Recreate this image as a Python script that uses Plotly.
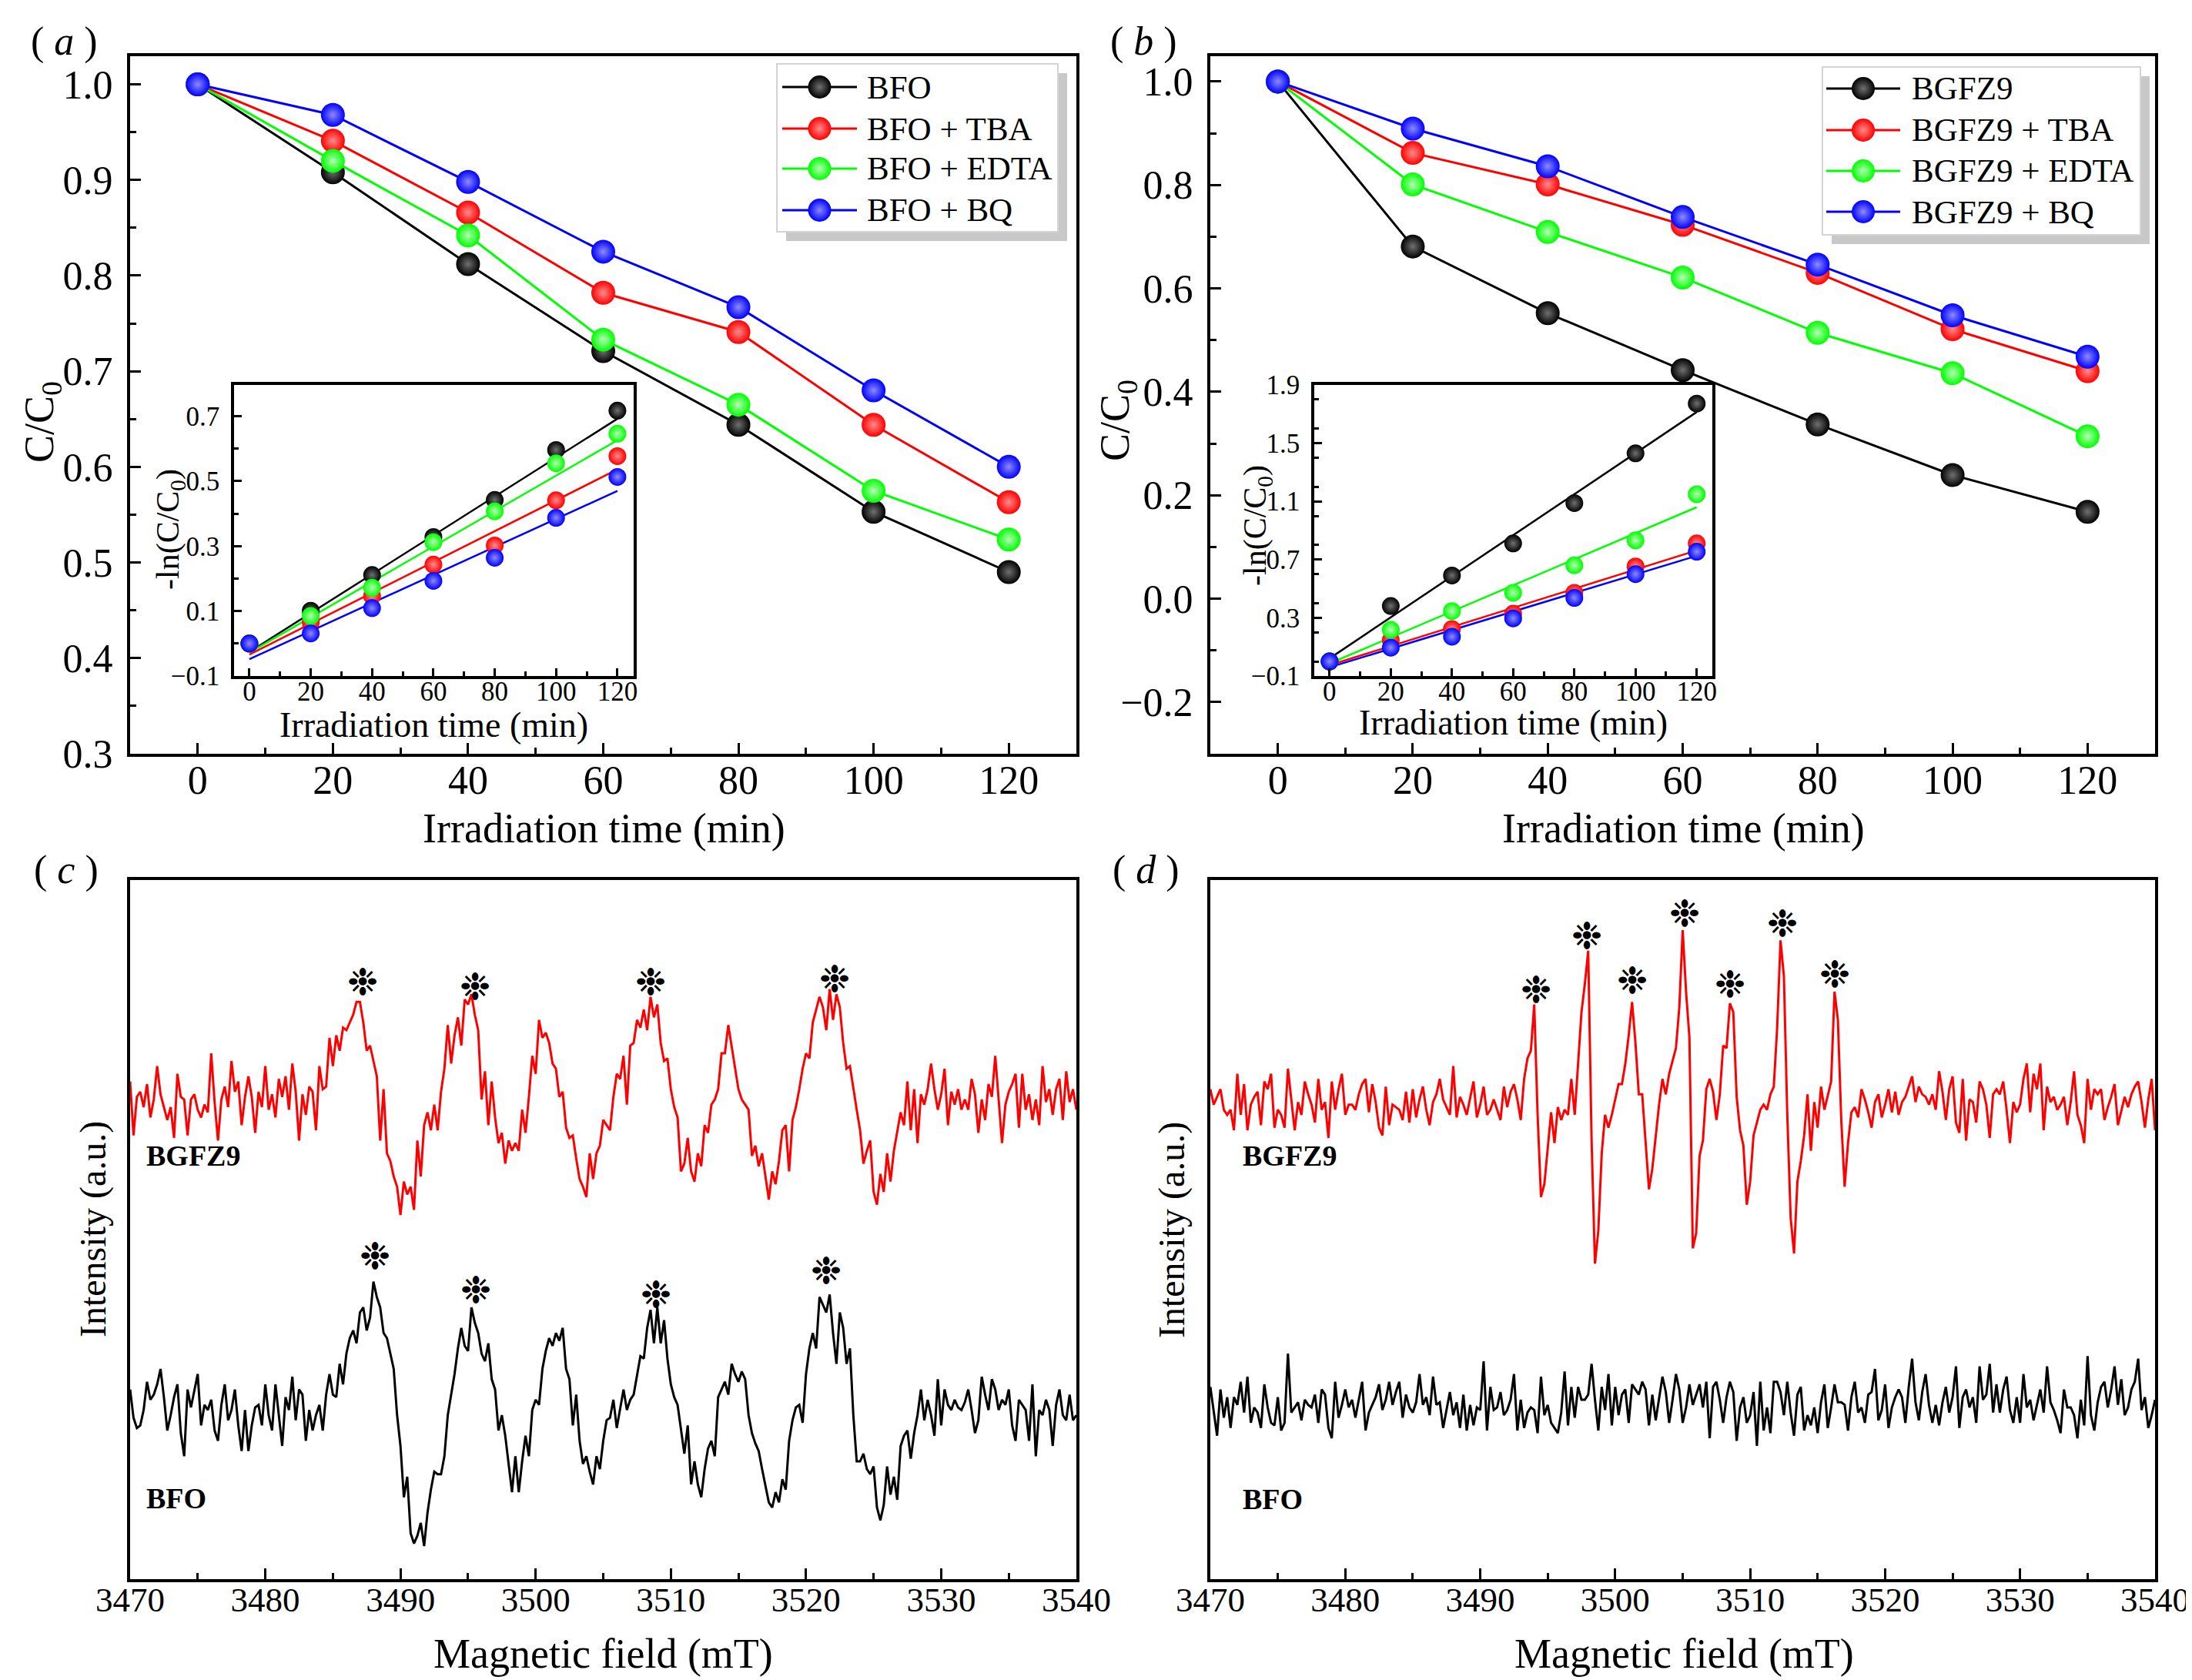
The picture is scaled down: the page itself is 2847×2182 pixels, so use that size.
import numpy as np
import plotly.graph_objects as go

W, H = 2847, 2182
FONT = "Liberation Serif, Times New Roman, serif"


def px(x):
    return x / W


def py(y):
    return 1 - y / H


# ---------------- data: degradation (panels a, b) ----------------
time_min = [0, 20, 40, 60, 80, 100, 120]

a_bfo = [1.0, 0.908, 0.812, 0.721, 0.644, 0.553, 0.490]
a_tba = [1.0, 0.941, 0.866, 0.782, 0.741, 0.644, 0.563]
a_edta = [1.0, 0.920, 0.842, 0.733, 0.665, 0.575, 0.524]
a_bq = [1.0, 0.968, 0.898, 0.825, 0.767, 0.680, 0.600]

b_bgfz9 = [1.0, 0.681, 0.552, 0.442, 0.337, 0.239, 0.168]
b_tba = [1.0, 0.862, 0.801, 0.723, 0.630, 0.521, 0.440]
b_edta = [1.0, 0.801, 0.709, 0.621, 0.514, 0.436, 0.314]
b_bq = [1.0, 0.909, 0.836, 0.738, 0.646, 0.548, 0.468]

# -ln(C/C0) insets
ln_a_bfo = [0.0, 0.101, 0.211, 0.328, 0.442, 0.596, 0.717]
ln_a_tba = [0.0, 0.065, 0.146, 0.243, 0.302, 0.441, 0.577]
ln_a_edta = [0.0, 0.085, 0.172, 0.312, 0.407, 0.555, 0.646]
ln_a_bq = [0.0, 0.031, 0.109, 0.193, 0.264, 0.387, 0.513]

ln_b_bgfz9 = [0.0, 0.381, 0.591, 0.811, 1.088, 1.430, 1.772]
ln_b_tba = [0.0, 0.147, 0.223, 0.328, 0.472, 0.653, 0.811]
ln_b_edta = [0.0, 0.218, 0.346, 0.472, 0.661, 0.832, 1.149]
ln_b_bq = [0.0, 0.095, 0.170, 0.296, 0.437, 0.600, 0.754]

# linear-fit lines, value at t=0 and t=120
fit_t = [0, 120]
fit_a_bfo = [-0.026, 0.692]
fit_a_tba = [-0.034, 0.536]
fit_a_edta = [-0.028, 0.626]
fit_a_bq = [-0.048, 0.470]
fit_b_bgfz9 = [0.021, 1.714]
fit_b_tba = [-0.026, 0.763]
fit_b_edta = [-0.014, 1.060]
fit_b_bq = [-0.040, 0.726]

# ---------------- data: EPR spectra (panels c, d), 0.25 mT steps ----------------
field = np.round(np.arange(3470, 3540.001, 0.25), 2)

c_bgfz9 = [
    80, -130, 20, 40, -20, 70, -60, 10, 140, 30,
    -20, -70, -20, -140, 110, 20, 10, -130, 10, 30,
    -30, -60, -10, -40, 190, 0, -150, 10, 60, -20,
    160, 40, 80, -90, 20, 100, 20, -120, 40, -20,
    140, -30, 30, -60, 90, 20, 100, -30, 150, 40,
    -150, 30, -50, 60, 40, -110, 140, 50, 60, 250,
    140, 260, 200, 290, 280, 310, 340, 390, 390, 310,
    200, 220, 160, 100, -150, 50, -200, -230, -290, -330,
    -440, -310, -360, -330, -420, -150, -290, -90, -40, -110,
    -10, -110, 40, 130, 300, 150, 260, 330, 220, 400,
    380, 420, 340, 280, 10, 120, -90, 80, -60, -160,
    -120, -240, -150, -190, -160, -190, -30, -120, 20, 180,
    110, 320, 250, 270, 230, 150, 130, 20, 40, -100,
    -140, -130, -220, -300, -330, -370, -200, -300, -200, -170,
    -70, -90, -110, 20, 110, 90, 180, -10, 220, 230,
    320, 290, 360, 280, 410, 330, 380, 230, 160, 170,
    50, -20, -60, -270, -240, -140, -270, -310, -200, -250,
    -90, -120, -10, 10, 50, 190, 190, 300, 220, 130,
    50, 10, -10, -30, -210, -170, -250, -200, -290, -380,
    -270, -320, -230, -110, -90, -270, -70, -20, 50, 130,
    190, 170, 310, 360, 410, 370, 280, 440, 320, 420,
    370, 230, 130, 140, 50, -30, -110, -240, -190, -150,
    -350, -400, -280, -350, -200, -310, -190, -110, -40, -90,
    80, -110, 50, -160, 30, -10, 50, 150, 50, -30,
    30, 130, -90, 40, -10, 50, -30, 10, -30, 90,
    30, -120, 10, -70, 70, 20, 180, 10, -160, -10,
    40, 70, 110, -100, 110, -30, 30, -70, 10, -90,
    140, 0, 50, -50, 50, 90, -70, 120, 0, 50,
    -30,
]

c_bfo = [
    80, -30, -70, -60, 0, 110, 40, 60, 100, 160,
    50, -80, -20, 50, 100, -90, -180, 80, 10, 80,
    140, -60, 20, 0, 40, -80, -120, 20, 100, -40,
    0, 80, -60, -160, 0, -160, -60, 10, 20, -60,
    100, -20, -80, 100, -20, -140, 50, 0, 130, -40,
    80, 60, -120, 0, -80, -20, 20, -80, 60, 140,
    60, 50, 180, 100, 220, 280, 310, 260, 380, 400,
    310, 360, 500, 440, 400, 300, 280, 220, 160, -20,
    -140, -340, -260, -480, -520, -490, -440, -530, -400, -310,
    -240, -250, -250, -180, -20, 60, 140, 240, 320, 250,
    230, 400, 340, 300, 220, 190, 260, 120, 80, -80,
    -20, -100, -220, -320, -180, -320, -200, -100, -180, 0,
    40, 20, 160, 230, 280, 250, 300, 270, 320, 160,
    120, -60, 60, -120, -210, -180, -240, -290, -180, -230,
    -120, -40, -30, 40, -70, 0, 80, 0, 40, 60,
    140, 210, 200, 320, 390, 260, 400, 260, 350, 200,
    100, 50, 20, -80, -170, -60, -290, -200, -290, -340,
    -230, -150, -120, -180, 50, 80, 110, 60, 180, 140,
    110, 150, 120, -20, -90, -130, -160, -230, -290, -360,
    -380, -320, -360, -270, -310, -120, -40, 10, 20, -50,
    140, 240, 300, 240, 440, 410, 380, 450, 300, 180,
    380, 320, 180, 240, -20, -200, -200, -170, -230, -250,
    -220, -380, -430, -370, -220, -330, -260, -350, -140, -100,
    -80, -190, -90, -20, 80, -40, 40, -20, -100, 120,
    -60, 80, 20, 0, 40, 10, 0, 30, 80, 0,
    -90, -40, 130, 60, 0, 120, 80, 0, 40, 20,
    80, -60, -120, 40, 20, 0, -120, 100, -180, 0,
    -20, 40, 0, -140, 20, 80, -20, -40, 60, -40,
    -20,
]

d_bgfz9 = [
    60, 0, 30, 60, -20, -40, -20, -100, 120, -40,
    80, -100, 0, 30, 50, -80, 90, 60, 120, -90,
    -20, -40, -90, 140, 20, -100, 10, -40, 90, 40,
    0, -70, 100, -20, 10, -130, 90, -20, 60, 120,
    -40, 0, 0, -20, 40, 80, 100, -30, 80, 10,
    -90, -120, 70, -80, 0, -10, -20, -60, 50, -70,
    60, -50, 20, 70, -20, -80, 10, 40, 100, 20,
    -10, -40, 150, -50, 30, 0, -40, 20, 90, -50,
    0, 70, -40, -20, 20, -20, -60, 70, -10, 50,
    80, 20, -60, 100, 180, 210, 390, -40, -360, -310,
    -160, -30, -150, -10, -60, -20, -40, 100, -40, 160,
    360, 470, 600, -140, -620, -490, -190, -40, -90, -40,
    20, 80, 80, 160, 270, 400, 240, 40, 40, -140,
    -330, -250, -120, 0, 100, 40, 120, 170, 220, 380,
    680, 440, 260, -560, -500, -200, -140, 60, 100, 50,
    -60, 40, 230, 220, 395, 360, 30, -100, -160, -390,
    -300, -120, -70, -20, 0, -20, 40, 70, 300, 640,
    500, -40, -440, -580, -300, -220, -120, 40, -180, 10,
    -90, 70, -20, 40, 90, 440, 330, -60, -320, -150,
    -30, -10, -50, 60, 20, -30, -90, 10, 40, -50,
    0, 60, -30, 50, -40, 10, 30, 70, 110, 10,
    70, 40, 30, 0, 40, -20, 130, 50, -60, 60,
    110, -70, -110, 100, -140, 20, 10, -70, 90, 60,
    0, -130, 40, 60, 40, 90, -20, -150, 10, -30,
    0, 100, 160, -30, 120, 60, 160, -100, 70, 10,
    30, -20, 0, 30, -80, 10, 130, -40, -80, -150,
    100, -20, 60, 40, 60, -60, -10, 30, 80, -80,
    -20, 30, -10, 40, 70, 90, 10, -90, 20, 100,
    -100,
]

d_bfo = [
    70, -30, -120, 60, -50, 30, -90, 30, 0, 90,
    -30, 110, -70, -10, -30, -90, 80, -10, -70, -80,
    30, -100, -70, 200, -30, -10, 10, -60, 20, 0,
    -10, 40, -70, 60, 40, -90, -130, 90, -50, 0,
    60, -10, 20, -50, 20, 90, -100, -30, 0, 30,
    80, -20, 20, 90, 0, 50, 90, -50, 40, -10,
    -30, 10, 120, 0, 30, -40, 110, 0, 10, -90,
    -20, 50, -40, 10, -90, 40, -100, 0, -80, -10,
    -20, 170, -100, 70, -20, -10, 50, -40, -20, 20,
    120, -100, 20, -90, -30, -10, -20, -110, 110, -40,
    0, -70, -90, -110, -30, 130, -80, 70, -50, 70,
    20, 20, 40, 160, 20, -100, 70, -20, 120, -80,
    70, -40, 40, 60, -70, 80, 60, 40, 90, 60,
    -80, 40, -60, 30, 110, 50, -70, 20, 120, 60,
    -70, -10, 80, 0, 40, 80, -10, 90, -130, 70,
    90, 20, -70, 30, 90, 50, -140, -10, 30, -70,
    -40, 50, -160, 90, -100, -10, -110, 90, 90, 50,
    -40, 90, -30, -120, 40, 70, -100, -40, -80, -10,
    -110, 10, 80, -90, -10, 80, 10, 10, 0, -100,
    30, 90, -30, -10, -70, 40, 50, 140, -60, -20,
    80, -90, -10, 30, 60, 30, -70, 70, 180, 10,
    -60, 50, 120, 0, -70, 0, -80, 10, 70, -30,
    30, 150, -90, 30, 60, -10, 30, -70, 150, 20,
    40, 160, -30, 80, -30, 60, 110, -20, -70, 30,
    -70, 120, -10, 20, -60, 0, 60, -30, 150, 10,
    -20, -60, -110, 60, -10, -10, -40, -130, 20, -80,
    190, -40, -100, 10, 70, 90, -10, 60, 150, 0,
    100, -40, -10, 60, 90, 180, -20, 30, -90, -40,
    20,
]

# asterisk marks above the DMPO adduct lines (field, height)
stars_c_top = [(3487.2, 2329), (3495.5, 2309), (3508.5, 2329), (3522.1, 2339)]
stars_c_bot = [(3488.1, 1259), (3495.6, 1129), (3508.9, 1109), (3521.5, 1204)]
stars_d_top = [(3494.16, 2299), (3497.9, 2509), (3501.27, 2334), (3505.12, 2594),
               (3508.52, 2319), (3512.39, 2557), (3516.25, 2357)]

# vertical stacking of spectra
OFF_C_TOP, OFF_C_BOT = 1859, 659
OFF_D_TOP, OFF_D_BOT = 1849, 679

COLORS = ['black', 'red', '#00ff00', 'blue']
GLOW = ['#707070', '#ff8c8c', '#b4ffb4', '#8c8cff']

fig = go.Figure()


def ball(size):
    return dict(size=size, color=COLORS, gradient=dict(type='radial', color=GLOW),
                line=dict(width=0))


def add_set(xa, ya, series, size, mode='lines+markers'):
    for ys, c, g in zip(series, COLORS, GLOW):
        fig.add_trace(go.Scatter(
            x=time_min, y=ys, mode=mode, xaxis=xa, yaxis=ya, showlegend=False,
            line=dict(color=c, width=3),
            marker=dict(size=size, color=c, gradient=dict(type='radial', color=g),
                        line=dict(width=0)),
        ))


def add_fits(xa, ya, fits):
    for ys, c in zip(fits, COLORS):
        fig.add_trace(go.Scatter(x=fit_t, y=ys, mode='lines', xaxis=xa, yaxis=ya,
                                 showlegend=False, line=dict(color=c, width=2.5)))


names_a = ['BFO', 'BFO + TBA', 'BFO + EDTA', 'BFO + BQ']
names_b = ['BGFZ9', 'BGFZ9 + TBA', 'BGFZ9 + EDTA', 'BGFZ9 + BQ']

add_set('x', 'y', [a_bfo, a_tba, a_edta, a_bq], 31)
add_fits('x2', 'y2', [fit_a_bfo, fit_a_tba, fit_a_edta, fit_a_bq])
add_set('x2', 'y2', [ln_a_bfo, ln_a_tba, ln_a_edta, ln_a_bq], 23, 'markers')

add_set('x3', 'y3', [b_bgfz9, b_tba, b_edta, b_bq], 31)
add_fits('x4', 'y4', [fit_b_bgfz9, fit_b_tba, fit_b_edta, fit_b_bq])
add_set('x4', 'y4', [ln_b_bgfz9, ln_b_tba, ln_b_edta, ln_b_bq], 23, 'markers')

for xa, ya, top, bot, ot, ob in [('x5', 'y5', c_bgfz9, c_bfo, OFF_C_TOP, OFF_C_BOT),
                                 ('x6', 'y6', d_bgfz9, d_bfo, OFF_D_TOP, OFF_D_BOT)]:
    fig.add_trace(go.Scatter(x=field, y=np.array(top) + ot, mode='lines', xaxis=xa, yaxis=ya,
                             showlegend=False, line=dict(color='red', width=3)))
    fig.add_trace(go.Scatter(x=field, y=np.array(bot) + ob, mode='lines', xaxis=xa, yaxis=ya,
                             showlegend=False, line=dict(color='black', width=3)))

# ---------------- legends (Origin style boxes with drop shadow) ----------------
# box: left, top, right, bottom in figure pixels; sample line x0/x1; text start; row centres
legends = [
    dict(names=names_a, box=(1001, 75, 1366, 293), line=(1008, 1105), text_x=1116,
         rows=[105, 159, 211, 265]),
    dict(names=names_b, box=(2359, 79, 2772, 297), line=(2364, 2460), text_x=2473,
         rows=[107, 161, 214, 267]),
]
shapes = []
ann = []
for lg in legends:
    l, t, r, b = lg['box']
    shapes.append(dict(type='rect', xref='paper', yref='paper', layer='below',
                       x0=px(l + 12), x1=px(r + 12), y0=py(b + 12), y1=py(t + 12),
                       fillcolor='#c8c8c8', line=dict(width=0)))
    shapes.append(dict(type='rect', xref='paper', yref='paper', layer='below',
                       x0=px(l), x1=px(r), y0=py(b), y1=py(t),
                       fillcolor='white', line=dict(color='#d4d4d4', width=2)))
    x0, x1 = lg['line']
    for name, yy, c in zip(lg['names'], lg['rows'], COLORS):
        shapes.append(dict(type='line', xref='paper', yref='paper', layer='below',
                           x0=px(x0), x1=px(x1), y0=py(yy), y1=py(yy),
                           line=dict(color=c, width=3)))
        ann.append(dict(x=px(lg['text_x']), y=py(yy), xref='paper', yref='paper', text=name,
                        showarrow=False, xanchor='left', yanchor='middle',
                        font=dict(family=FONT, size=43, color='black')))
    # legend balls on a full-figure pixel overlay
    fig.add_trace(go.Scatter(x=[(x0 + x1) / 2] * 4, y=lg['rows'], mode='markers',
                             xaxis='x7', yaxis='y7', showlegend=False, hoverinfo='skip',
                             marker=ball(30)))


def axis(domain, rng, anchor, size=52, **kw):
    d = dict(domain=domain, range=rng, anchor=anchor, showline=True, linewidth=4,
             linecolor='black', mirror=True, showgrid=False, zeroline=False,
             ticks='inside', ticklen=14, tickwidth=3, tickcolor='black',
             ticklabelstandoff=8, automargin=False,
             tickfont=dict(family=FONT, size=size, color='black'))
    d.update(kw)
    return d


def minor(dt, length=8):
    return dict(ticks='inside', ticklen=length, tickwidth=3, tickcolor='black', dtick=dt)


dom_ax = [px(161), px(1390)]
dom_bx = [px(1564), px(2791)]
dom_top = [py(971), py(65)]
dom_bot = [py(2043), py(1135)]
inset = dict(size=35, ticklen=10, tickwidth=2.5, linewidth=3.5)

fig.update_layout(
    width=W, height=H, margin=dict(l=0, r=0, t=0, b=0, autoexpand=False),
    paper_bgcolor='white', plot_bgcolor='rgba(0,0,0,0)', showlegend=False,
    font=dict(family=FONT, color='black'),
    xaxis=axis(dom_ax, [-10, 130], 'y', tick0=0, dtick=20, minor=minor(10),
               ticklabelstandoff=-14),
    yaxis=axis(dom_top, [0.3, 1.0294], 'x', tick0=0.3, dtick=0.1, tickformat='.1f',
               minor=minor(0.05)),
    xaxis2=axis([px(296), px(815)], [-5, 125.3], 'y2', tick0=0, dtick=20,
                minor=minor(10, 6), ticklabelstandoff=-14, **inset),
    yaxis2=axis([py(870), py(492)], [-0.1, 0.796], 'x2', tick0=-0.1, dtick=0.2,
                tickformat='.1f', minor=minor(0.1, 6), **inset),
    xaxis3=axis(dom_bx, [-10, 130], 'y3', tick0=0, dtick=20, minor=minor(10),
                ticklabelstandoff=-14),
    yaxis3=axis(dom_top, [-0.3, 1.049], 'x3', tick0=-0.2, dtick=0.2, tickformat='.1f',
                minor=minor(0.1)),
    xaxis4=axis([px(1699), px(2216)], [-5, 125.1], 'y4', tick0=0, dtick=20,
                minor=minor(10, 6), ticklabelstandoff=-14, **inset),
    yaxis4=axis([py(870), py(492)], [-0.1, 1.9], 'x4', tick0=-0.1, dtick=0.4,
                tickformat='.1f', minor=minor(0.2, 6), **inset),
    xaxis5=axis(dom_ax, [3470, 3540], 'y5', size=45, tick0=3470, dtick=10, minor=minor(5),
                ticklabelstandoff=-16),
    yaxis5=axis(dom_bot, [0, 2724], 'x5', ticks='', showticklabels=False),
    xaxis6=axis(dom_bx, [3470, 3540], 'y6', size=45, tick0=3470, dtick=10, minor=minor(5),
                ticklabelstandoff=-16),
    yaxis6=axis(dom_bot, [0, 2724], 'x6', ticks='', showticklabels=False),
    xaxis7=dict(domain=[0, 1], range=[0, W], anchor='y7', visible=False, fixedrange=True),
    yaxis7=dict(domain=[0, 1], range=[H, 0], anchor='x7', visible=False, fixedrange=True),
)


def text(x, y, s, size, angle=0):
    ann.append(dict(x=px(x), y=py(y), xref='paper', yref='paper', text=s, showarrow=False,
                    xanchor='center', yanchor='middle', textangle=angle,
                    font=dict(family=FONT, size=size, color='black')))


for lab, x, y in [('a', 75, 46), ('b', 1477, 46), ('c', 78, 1122), ('d', 1480, 1122)]:
    text(x, y, '( <i>%s</i> )' % lab, 52)

text(46, 540, 'C/C<sub>0</sub>', 54, -90)
text(1443, 538, 'C/C<sub>0</sub>', 54, -90)
text(776, 1068, 'Irradiation time (min)', 54)
text(2178, 1068, 'Irradiation time (min)', 54)
text(213, 680, '-ln(C/C<sub>0</sub>)', 42, -90)
text(1625, 675, '-ln(C/C<sub>0</sub>)', 42, -90)
text(555, 933, 'Irradiation time (min)', 46)
text(1957, 930, 'Irradiation time (min)', 46)
text(775, 2140, 'Magnetic field (mT)', 54)
text(2179, 2140, 'Magnetic field (mT)', 54)
text(113, 1589, 'Intensity (a.u.)', 48, -90)
text(1514, 1589, 'Intensity (a.u.)', 48, -90)

for xr, yr, stars in [('x5', 'y5', stars_c_top + stars_c_bot), ('x6', 'y6', stars_d_top)]:
    for fx, hy in stars:
        ann.append(dict(x=fx, y=hy, xref=xr, yref=yr, text='\u2749', showarrow=False,
                        xanchor='center', yanchor='middle',
                        font=dict(family='DejaVu Sans', size=48, color='black')))

for xr, yr, fx, hy, s in [('x5', 'y5', 3471.1, 1650, 'BGFZ9'), ('x5', 'y5', 3471.1, 314, 'BFO'),
                          ('x6', 'y6', 3472.3, 1649, 'BGFZ9'), ('x6', 'y6', 3472.3, 312, 'BFO')]:
    ann.append(dict(x=fx, y=hy, xref=xr, yref=yr, text='<b>%s</b>' % s, showarrow=False,
                    xanchor='left', yanchor='middle',
                    font=dict(family=FONT, size=38, color='black')))

fig.update_layout(annotations=ann, shapes=shapes)

fig.write_html("out.html")
